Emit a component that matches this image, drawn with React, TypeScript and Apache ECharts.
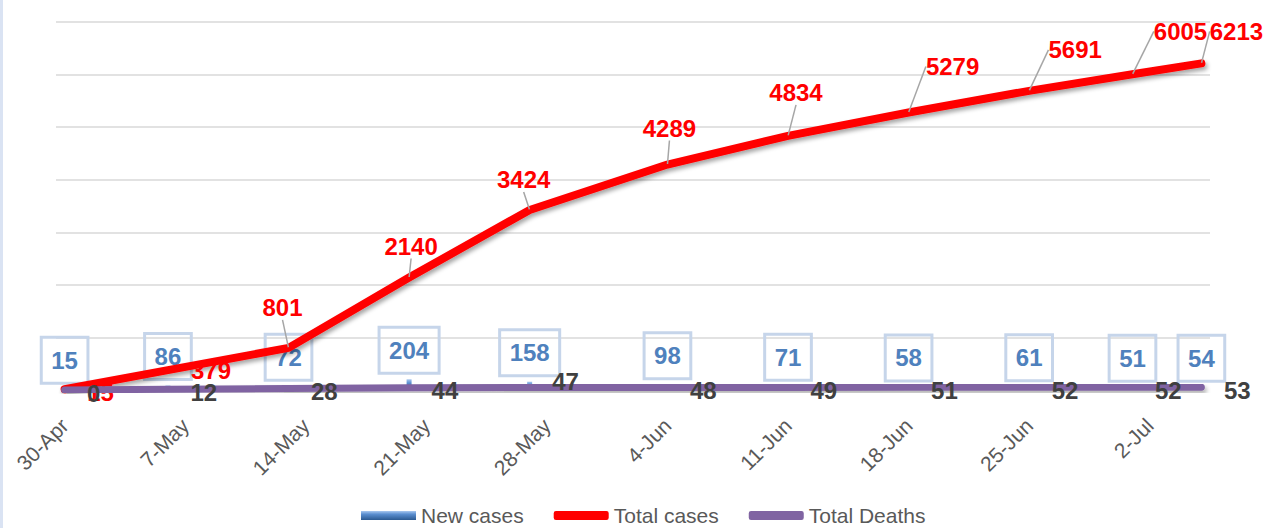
import React, { useEffect, useRef } from 'react';
import * as echarts from 'echarts';

// Axis: one category per day, from 30-Apr to 5-Jul (Excel date axis)
const monthNames = ['Apr', 'May', 'Jun', 'Jul'];
const monthLengths = [30, 31, 30, 31];
const firstDay = 30;
const dayCount = 67;

function buildDays(): string[] {
  const out: string[] = [];
  let m = 0;
  let d = firstDay;
  for (let i = 0; i < dayCount; i++) {
    out.push(`${d}-${monthNames[m]}`);
    d++;
    if (d > monthLengths[m]) { d = 1; m++; }
  }
  return out;
}
const categories = buildDays();

// Data
const dates = ['30-Apr', '6-May', '13-May', '20-May', '27-May', '4-Jun', '11-Jun', '18-Jun', '25-Jun', '1-Jul', '5-Jul'];
const newCases = [15, 86, 72, 204, 158, 98, 71, 58, 61, 51, 54];
const totalCases = [15, 379, 801, 2140, 3424, 4289, 4834, 5279, 5691, 6005, 6213];
const totalDeaths = [0, 12, 28, 44, 47, 48, 49, 51, 52, 52, 53];

// Label displacement for "Total cases" labels (style only)
const totalLabelOffsets: [number, number][] = [
  [36, 3], [43, 0], [-6, -40], [2, -31], [-6, -30], [2, -36],
  [8, -43], [44, -46], [46, -41], [48, -43], [35, -32],
];

const FONT = 'Liberation Sans';

export default function App() {
  const ref = useRef<HTMLDivElement>(null);
  useEffect(() => {
    if (!ref.current) return;
    const chart = echarts.init(ref.current, undefined, { renderer: 'svg' });
    const option: any = {
      animation: false,
      backgroundColor: '#ffffff',
      textStyle: { fontFamily: FONT },
      grid: { left: 56, right: 56, top: 22, bottom: 138, containLabel: false },
      xAxis: {
        type: 'category',
        data: categories,
        boundaryGap: true,
        axisLine: { show: false },
        axisTick: { show: false },
        axisLabel: {
          interval: (index: number) => index % 7 === 0,
          rotate: 45,
          margin: 32,
          fontSize: 21,
          color: '#595959',
          fontFamily: FONT,
        },
        splitLine: { show: false },
      },
      yAxis: {
        type: 'value',
        min: 0,
        max: 7000,
        interval: 1000,
        axisLabel: { show: false },
        axisLine: { show: false },
        axisTick: { show: false },
        splitLine: {
          show: true,
          lineStyle: {
            color: ['rgba(0,0,0,0)', '#d9d9d9', '#d9d9d9', '#d9d9d9', '#d9d9d9', '#d9d9d9', '#d9d9d9', '#d9d9d9'],
            width: 1.5,
          },
        },
      },
      legend: {
        left: 356,
        top: 500,
        itemWidth: 55,
        itemHeight: 9,
        itemGap: 30,
        textStyle: { fontSize: 21, color: '#595959', fontFamily: FONT },
        data: [
          { name: 'New cases', icon: 'rect' },
          { name: 'Total cases', icon: 'roundRect' },
          { name: 'Total Deaths', icon: 'roundRect' },
        ],
      },
      graphic: [
        { type: 'rect', left: 0, top: 0, shape: { x: 0, y: 0, width: 3, height: 528 }, style: { fill: '#dae3f3' }, silent: true },
      ],
      series: [
        {
          name: 'New cases',
          type: 'bar',
          barWidth: 5,
          itemStyle: {
            color: new echarts.graphic.LinearGradient(0, 0, 0, 1, [
              { offset: 0, color: '#a9c8f0' },
              { offset: 0.35, color: '#5b8fd0' },
              { offset: 1, color: '#2c5a92' },
            ]),
          },
          label: {
            show: true,
            position: 'top',
            distance: 6,
            color: '#4f81bd',
            fontSize: 24,
            fontWeight: 'bold',
            fontFamily: FONT,
            lineHeight: 24,
            padding: [11, 10, 11, 10],
            borderColor: '#c6d5ea',
            borderWidth: 1.5,
            backgroundColor: 'rgba(255,255,255,0)',
          },
          data: dates.map((d, i) => [d, newCases[i]]),
          z: 2,
        },
        {
          name: 'Total cases',
          type: 'line',
          symbol: 'circle',
          symbolSize: 1,
          itemStyle: { color: '#ff0000' },
          lineStyle: {
            color: '#ff0000',
            width: 8,
            cap: 'round',
            join: 'round',
            shadowColor: 'rgba(0,0,0,0.35)',
            shadowBlur: 4,
            shadowOffsetX: 2,
            shadowOffsetY: 3,
          },
          label: {
            show: true,
            position: 'inside',
            color: '#ff0000',
            fontSize: 24,
            fontWeight: 'bold',
            fontFamily: FONT,
          },
          labelLine: {
            show: true,
            length2: 0,
            lineStyle: { color: '#a6a6a6', width: 1.5 },
          },
          labelLayout: (params: any) => {
            const o = totalLabelOffsets[params.dataIndex] || [0, 0];
            return { dx: o[0], dy: o[1] };
          },
          data: dates.map((d, i) => ({
            value: [d, totalCases[i]],
            labelLine: { show: i >= 2 },
          })),
          z: 3,
        },
        {
          name: 'Total Deaths',
          type: 'line',
          symbol: 'circle',
          symbolSize: 1,
          itemStyle: { color: '#8064a2' },
          lineStyle: {
            color: '#8064a2',
            width: 7,
            cap: 'round',
            join: 'round',
            shadowColor: 'rgba(0,0,0,0.3)',
            shadowBlur: 4,
            shadowOffsetX: 2,
            shadowOffsetY: 3,
          },
          label: {
            show: true,
            position: 'right',
            distance: 22,
            offset: [0, 3],
            color: '#404040',
            fontSize: 24,
            fontWeight: 'bold',
            fontFamily: FONT,
          },
          data: dates.map((d, i) => (i === 4
            ? { value: [d, totalDeaths[i]], label: { offset: [0, -6] } }
            : { value: [d, totalDeaths[i]] })),
          z: 4,
        },
      ],
    };
    chart.setOption(option);
    return () => chart.dispose();
  }, []);
  return (
    <div
      ref={ref}
      style={{ position: 'fixed', left: 0, top: 0, width: 1266, height: 528 }}
    />
  );
}
